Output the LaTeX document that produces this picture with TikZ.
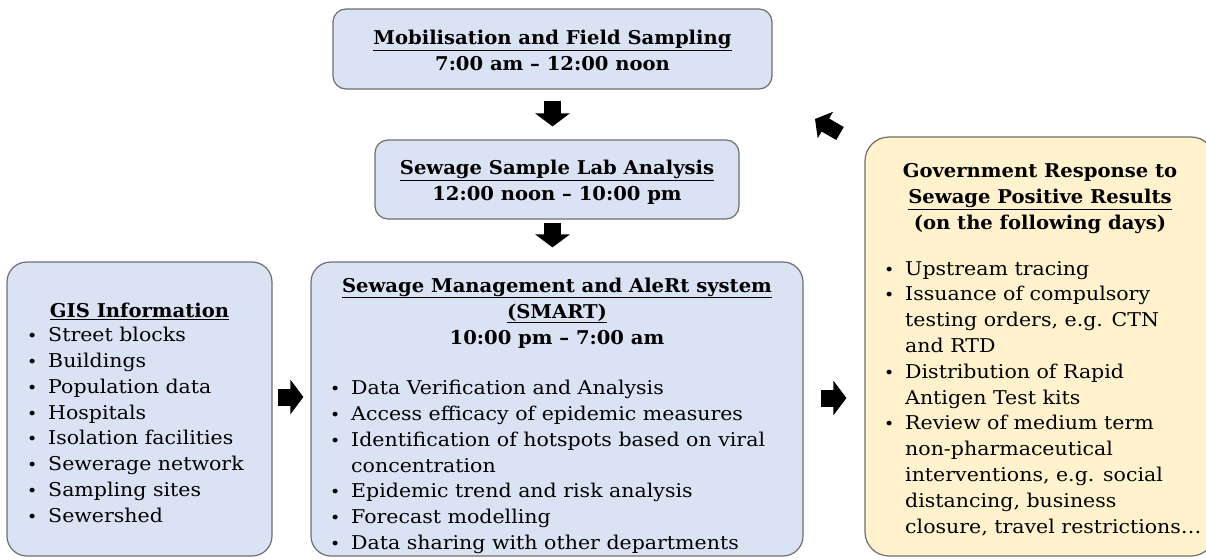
\documentclass[tikz,border=0pt]{standalone}
\usepackage{fontspec}
\setmainfont[FakeStretch=1.08, BoldFeatures={FakeStretch=1.03}]{DejaVu Serif}
\usepackage{pgf, tikz}
\usetikzlibrary{positioning,arrows.meta}

\definecolor{boxblue}{HTML}{DAE3F3}
\definecolor{boxyellow}{HTML}{FFF2CC}
\definecolor{boxline}{HTML}{6E6E6E}

% 列表符号
\newcommand{\bul}{\makebox[22pt][l]{\hspace{1pt}{\fontsize{16}{16}\selectfont\textbullet}}}
\newcommand{\cont}{\hspace*{22pt}}

\tikzset{
    bluebox/.style={
        rectangle,
        draw=boxline, % 边框颜色为灰色
        fill=boxblue, % 浅蓝色填充
        line width=1.2pt,
        rounded corners=20pt,
        inner sep=0
    },
    yellowbox/.style={
        bluebox,
        fill=boxyellow % 浅黄色填充
    },
    headtext/.style={
        align=center,
        inner sep=0,
        font=\fontsize{19}{26}\selectfont\bfseries
    },
    itemtext/.style={
        align=left,
        inner sep=0,
        font=\fontsize{19}{25.8}\selectfont
    },
    blockarrow/.style={
        -{Triangle[width=34pt,length=13pt]},
        line width=17pt,
        black
    }
}

\begin{document}
\begin{tikzpicture}[x=1pt,y=-1pt]
            \useasboundingbox (0,0) rectangle (1206,559);
            % 上方两个时间段
            \node[bluebox, rounded corners=13pt, minimum width=439pt, minimum height=80pt] (mobil) at (552.5,49) {};
            \node[headtext, yshift=-1pt] (mobiltext) at (mobil)
                {\underline{Mobilisation and Field Sampling}\\7:00 am – 12:00 noon};
            \node[bluebox, rounded corners=13pt, minimum width=364pt, minimum height=79pt] (lab) at (557,179.5) {};
            \node[headtext, yshift=-3pt] (labtext) at (lab)
                {\underline{Sewage Sample Lab Analysis}\\12:00 noon – 10:00 pm};
            % 下方三个框
            \node[bluebox, minimum width=265pt, minimum height=294pt] (gis) at (139.5,409) {};
            \node[bluebox, minimum width=492pt, minimum height=294pt] (smart) at (557,409) {};
            \node[yellowbox, rounded corners=24pt, minimum width=350pt, minimum height=419pt] (gov) at (1040,346.5) {};
            % GIS
            \node[headtext, below=41pt of gis.north] (gishead) {\underline{GIS Information}};
            \node[itemtext, anchor=north west] (gisitems) at (26,327)
                {\bul Street blocks\\
                 \bul Buildings\\
                 \bul Population data\\
                 \bul Hospitals\\
                 \bul Isolation facilities\\
                 \bul Sewerage network\\
                 \bul Sampling sites\\
                 \bul Sewershed};
            % SMART
            \node[headtext, below=16pt of smart.north] (smarthead)
                {\underline{Sewage Management and AleRt system}\\\underline{(SMART)}\\10:00 pm – 7:00 am};
            \node[itemtext, anchor=north west] (smartitems) at (329,380)
                {\bul Data Verification and Analysis\\
                 \bul Access efficacy of epidemic measures\\
                 \bul Identification of hotspots based on viral\\
                 \cont concentration\\
                 \bul Epidemic trend and risk analysis\\
                 \bul Forecast modelling\\
                 \bul Data sharing with other departments};
            % 政府响应
            \node[headtext, anchor=north] (govhead) at (1040,163)
                {Government Response to\\\underline{Sewage Positive Results}\\(on the following days)};
            \node[itemtext, anchor=north west] (govitems) at (883,261)
                {\bul Upstream tracing\\
                 \bul Issuance of compulsory\\
                 \cont testing orders, e.g. CTN\\
                 \cont and RTD\\
                 \bul Distribution of Rapid\\
                 \cont Antigen Test kits\\
                 \bul Review of medium term\\
                 \cont non-pharmaceutical\\
                 \cont interventions, e.g. social\\
                 \cont distancing, business\\
                 \cont closure, travel restrictions…};
            % 箭头
            \draw[blockarrow, shorten <=11pt, shorten >=13pt] (mobil.south) -- (mobil.south |- lab.north);
            \draw[blockarrow, shorten <=3pt, shorten >=14pt] (mobil.south |- lab.south) -- (mobil.south |- smart.north);
            \draw[blockarrow, shorten <=5pt, shorten >=7pt] ([yshift=12pt]gis.east) -- ([yshift=12pt]smart.west);
            \draw[blockarrow, shorten <=17pt, shorten >=18pt] ([yshift=11pt]smart.east) -- ([yshift=11pt]smart.east -| gov.west);
            \coordinate (backtail) at (840,133.5);
            \coordinate (backtip) at (815,119);
            \draw[blockarrow, -{Triangle[width=30pt,length=12pt]}, line width=15pt] (backtail) -- (backtip);
\end{tikzpicture}
\end{document}
